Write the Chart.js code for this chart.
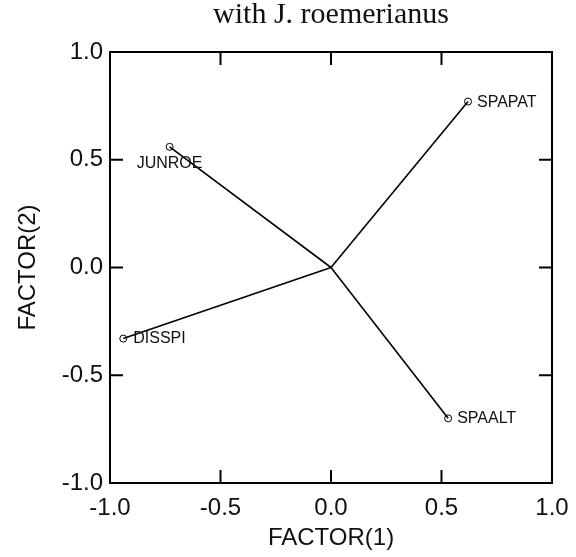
<!DOCTYPE html>
<html>
<head>
<meta charset="utf-8">
<script src="https://cdn.jsdelivr.net/npm/chart.js@4/dist/chart.umd.min.js"></script>
<style>
html,body{margin:0;padding:0;background:#fff;}
#wrap{width:576px;height:557px;position:relative;}
</style>
</head>
<body>
<div id="wrap"><canvas id="c" width="576" height="557"></canvas></div>
<script>
// Data
const names = ["SPAPAT", "JUNROE", "DISSPI", "SPAALT"];
const factor1 = [0.62, -0.73, -0.94, 0.53];
const factor2 = [0.77, 0.56, -0.33, -0.70];
const tickValues = [-1.0, -0.5, 0.0, 0.5, 1.0];
const titleText = "with J. roemerianus";
const xTitle = "FACTOR(1)";
const yTitle = "FACTOR(2)";

// label placement (offsets in px relative to point): [dx, dy, align]
const labelPlace = {
  SPAPAT: [9, 1, 'left'],
  JUNROE: [-33, 17, 'left'],
  DISSPI: [10, 0, 'left'],
  SPAALT: [9, 0, 'left']
};

const datasets = names.map((n, i) => ({
  label: n,
  data: [{x: 0, y: 0}, {x: factor1[i], y: factor2[i]}],
  showLine: true,
  borderColor: '#000',
  borderWidth: 1.6,
  pointRadius: [0, 3.5],
  pointBorderWidth: 1,
  pointBorderColor: '#000',
  pointBackgroundColor: 'rgba(0,0,0,0)',
  pointStyle: 'circle'
}));

const framePlugin = {
  id: 'frame',
  afterDraw(chart) {
    const ctx = chart.ctx;
    const a = chart.chartArea;
    const xs = chart.scales.x, ys = chart.scales.y;
    ctx.save();
    ctx.strokeStyle = '#000';
    ctx.lineWidth = 2;
    ctx.strokeRect(a.left, a.top, a.right - a.left, a.bottom - a.top);
    const tl = 13;
    ctx.lineWidth = 2;
    ctx.beginPath();
    tickValues.slice(1, -1).forEach(v => {
      const px = xs.getPixelForValue(v);
      ctx.moveTo(px, a.bottom); ctx.lineTo(px, a.bottom - tl);
      ctx.moveTo(px, a.top); ctx.lineTo(px, a.top + tl);
      const py = ys.getPixelForValue(v);
      ctx.moveTo(a.left, py); ctx.lineTo(a.left + tl, py);
      ctx.moveTo(a.right, py); ctx.lineTo(a.right - tl, py);
    });
    ctx.stroke();

    // point labels
    ctx.fillStyle = '#111';
    ctx.font = '16px "Liberation Sans", Arial, sans-serif';
    ctx.textBaseline = 'middle';
    names.forEach((n, i) => {
      const px = xs.getPixelForValue(factor1[i]);
      const py = ys.getPixelForValue(factor2[i]);
      const p = labelPlace[n];
      ctx.textAlign = p[2];
      ctx.fillText(n, px + p[0], py + p[1]);
    });

    // title
    ctx.font = '30px "Liberation Serif", "Times New Roman", serif';
    ctx.textAlign = 'center';
    ctx.textBaseline = 'alphabetic';
    ctx.fillStyle = '#111';
    ctx.fillText(titleText, (a.left + a.right) / 2, 23);
    ctx.restore();
  }
};

new Chart(document.getElementById('c'), {
  type: 'scatter',
  data: { datasets },
  options: {
    responsive: false,
    animation: false,
    events: [],
    layout: { padding: { left: 0, right: 24, top: 52, bottom: 0 } },
    plugins: { legend: { display: false }, tooltip: { enabled: false }, title: { display: false } },
    scales: {
      x: {
        type: 'linear', min: -1, max: 1,
        afterBuildTicks(s) { s.ticks = tickValues.map(v => ({value: v})); },
        afterFit(s) { s.height = 74; s.paddingLeft = 0; s.paddingRight = 0; },
        grid: { display: false, drawTicks: false },
        border: { display: false },
        ticks: {
          padding: 11,
          color: '#111',
          font: { size: 24, family: '"Liberation Sans", Arial, sans-serif' },
          callback: v => Number(v).toFixed(1),
          maxRotation: 0
        },
        title: {
          display: true, text: xTitle, color: '#111',
          font: { size: 24, family: '"Liberation Sans", Arial, sans-serif' },
          padding: { top: 0, bottom: 4 }
        }
      },
      y: {
        type: 'linear', min: -1, max: 1,
        afterBuildTicks(s) { s.ticks = tickValues.map(v => ({value: v})); },
        afterFit(s) { s.width = 110; s.paddingTop = 0; s.paddingBottom = 0; },
        grid: { display: false, drawTicks: false },
        border: { display: false },
        ticks: {
          padding: 7,
          color: '#111',
          font: { size: 24, family: '"Liberation Sans", Arial, sans-serif' },
          callback: v => Number(v).toFixed(1)
        },
        title: {
          display: true, text: yTitle, color: '#111',
          font: { size: 24, family: '"Liberation Sans", Arial, sans-serif' },
          padding: { top: 14, bottom: 0 }
        }
      }
    }
  },
  plugins: [framePlugin]
});
</script>
</body>
</html>
